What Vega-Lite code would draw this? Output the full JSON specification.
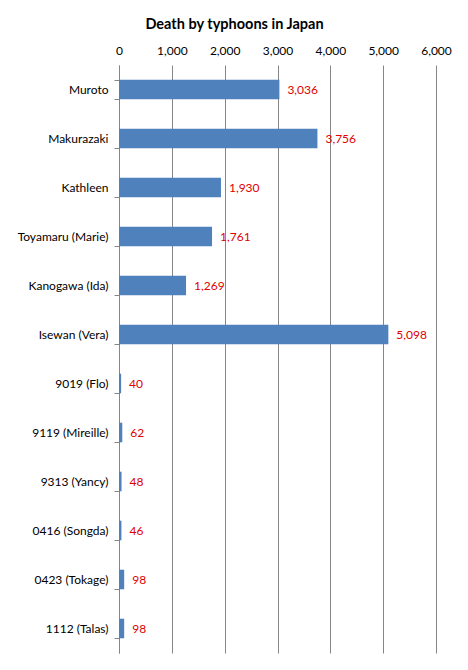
{
  "$schema": "https://vega.github.io/schema/vega-lite/v6.json",
  "autosize": "none",
  "width": 317,
  "height": 588,
  "padding": {"left": 119, "top": 65, "right": 32, "bottom": 17},
  "background": "white",
  "title": {
    "text": "Death by typhoons in Japan",
    "font": "Lato",
    "fontSize": 14.5,
    "fontWeight": "bold",
    "color": "#000000",
    "anchor": "middle",
    "dx": -43,
    "offset": 12
  },
  "data": {
    "values": [
      {"name": "Muroto", "deaths": 3036},
      {"name": "Makurazaki", "deaths": 3756},
      {"name": "Kathleen", "deaths": 1930},
      {"name": "Toyamaru (Marie)", "deaths": 1761},
      {"name": "Kanogawa (Ida)", "deaths": 1269},
      {"name": "Isewan (Vera)", "deaths": 5098},
      {"name": "9019 (Flo)", "deaths": 40},
      {"name": "9119 (Mireille)", "deaths": 62},
      {"name": "9313 (Yancy)", "deaths": 48},
      {"name": "0416 (Songda)", "deaths": 46},
      {"name": "0423 (Tokage)", "deaths": 98},
      {"name": "1112 (Talas)", "deaths": 98}
    ]
  },
  "encoding": {
    "y": {
      "field": "name",
      "type": "nominal",
      "sort": null,
      "scale": {"paddingInner": 0.6, "paddingOuter": 0.3},
      "axis": {
        "title": null,
        "labelFont": "Lato",
        "labelFontSize": 12,
        "labelColor": "#000000",
        "labelPadding": 6,
        "domainColor": "#868686",
        "tickColor": "#868686",
        "tickBand": "extent",
        "tickSize": 5,
        "grid": false
      }
    },
    "x": {
      "field": "deaths",
      "type": "quantitative",
      "scale": {"domain": [0, 6000], "nice": false},
      "axis": {
        "orient": "top",
        "title": null,
        "values": [0, 1000, 2000, 3000, 4000, 5000, 6000],
        "format": ",d",
        "labelFont": "Lato",
        "labelFontSize": 12,
        "labelColor": "#000000",
        "labelPadding": 8,
        "labelFlush": false,
        "labelOverlap": false,
        "ticks": false,
        "domain": false,
        "grid": true,
        "gridColor": "#868686",
        "gridOpacity": 1
      }
    }
  },
  "layer": [
    {"mark": {"type": "bar", "color": "#4F81BD"}},
    {
      "mark": {"type": "text", "align": "left", "dx": 8, "font": "Lato", "fontSize": 12, "color": "#E00000"},
      "encoding": {"text": {"field": "deaths", "type": "quantitative", "format": ",d"}}
    }
  ],
  "config": {"view": {"stroke": null}}
}
